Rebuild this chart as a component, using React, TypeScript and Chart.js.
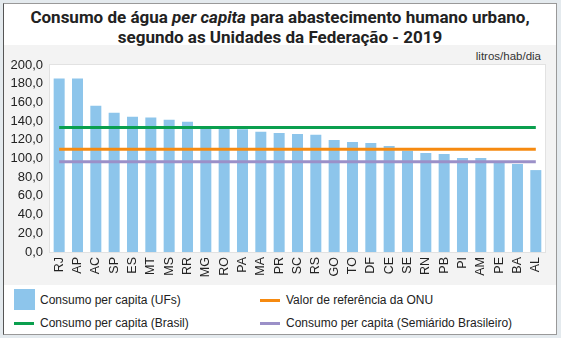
import React, { useEffect, useRef } from "react";
import { Chart, registerables } from "chart.js";

Chart.register(...registerables);

const categories = ["RJ","AP","AC","SP","ES","MT","MS","RR","MG","RO","PA","MA","PR","SC","RS","GO","TO","DF","CE","SE","RN","PB","PI","AM","PE","BA","AL"];
const ufValues = [185.5,185.5,156.5,149.0,144.6,143.9,141.4,139.2,133.3,132.8,131.2,128.5,127.4,126.3,125.3,119.9,117.7,116.7,113.4,108.3,105.9,104.8,100.5,100.5,97.3,94.1,87.6];
const brasilValue = 133.1;
const onuValue = 110.0;
const semiaridoValue = 96.6;
const yTicks = { min: 0, max: 200, step: 20 };

const seriesLabels = {
  ufs: "Consumo per capita (UFs)",
  onu: "Valor de referência da ONU",
  brasil: "Consumo per capita (Brasil)",
  semi: "Consumo per capita (Semiárido Brasileiro)",
};

const COLORS = {
  bar: "#8dc5eb",
  green: "#0a9f4e",
  orange: "#f68a10",
  purple: "#9b90c8",
};

const FONT = "Roboto, 'Liberation Sans', Arial, sans-serif";
const FONT2 = "'Liberation Sans', Arial, sans-serif";

const plotBg = {
  id: "plotBg",
  beforeDraw(chart: any) {
    const { ctx, chartArea: a } = chart;
    ctx.save();
    ctx.fillStyle = "#ffffff";
    ctx.fillRect(a.left, a.top, a.right - a.left, a.bottom - a.top);
    ctx.strokeStyle = "#e2e2e2";
    ctx.lineWidth = 1;
    ctx.strokeRect(a.left - 0.5, a.top - 0.5, a.right - a.left + 1, a.bottom - a.top + 1);
    ctx.restore();
  },
};

function App() {
  const ref = useRef<HTMLCanvasElement | null>(null);
  useEffect(() => {
    if (!ref.current) return;
    const n = categories.length;
    const chart = new Chart(ref.current, {
      type: "bar",
      data: {
        labels: categories,
        datasets: [
          {
            type: "bar",
            label: seriesLabels.ufs,
            data: ufValues,
            backgroundColor: COLORS.bar,
            borderWidth: 0,
            categoryPercentage: 0.6,
            barPercentage: 1,
            order: 2,
          } as any,
          {
            type: "line",
            label: seriesLabels.onu,
            data: new Array(n).fill(onuValue),
            borderColor: COLORS.orange,
            borderWidth: 3,
            pointRadius: 0,
            fill: false,
            order: 1,
          },
          {
            type: "line",
            label: seriesLabels.brasil,
            data: new Array(n).fill(brasilValue),
            borderColor: COLORS.green,
            borderWidth: 3,
            pointRadius: 0,
            fill: false,
            order: 1,
          },
          {
            type: "line",
            label: seriesLabels.semi,
            data: new Array(n).fill(semiaridoValue),
            borderColor: COLORS.purple,
            borderWidth: 3,
            pointRadius: 0,
            fill: false,
            order: 1,
          },
        ],
      },
      options: {
        animation: false,
        responsive: false,
        maintainAspectRatio: false,
        layout: { padding: { left: 0, top: 20, right: 10, bottom: 1 } },
        plugins: {
          legend: { display: false },
          tooltip: { enabled: false },
          title: { display: false },
        },
        scales: {
          x: {
            grid: { display: false, drawTicks: false },
            border: { display: false },
            ticks: {
              autoSkip: false,
              minRotation: 90,
              maxRotation: 90,
              padding: 5,
              color: "#222",
              font: { family: FONT2, size: 12.5 },
            },
            afterFit(scale: any) {
              scale.height = 30;
            },
          },
          y: {
            min: yTicks.min,
            max: yTicks.max,
            grid: { display: false, drawTicks: false },
            border: { display: false },
            ticks: {
              stepSize: yTicks.step,
              padding: 7,
              color: "#222",
              font: { family: FONT2, size: 13 },
              callback: (v: any) => Number(v).toFixed(1).replace(".", ","),
            },
            afterFit(scale: any) {
              scale.width = 46;
            },
          },
        },
      },
      plugins: [plotBg],
    });
    return () => chart.destroy();
  }, []);

  const legendText: React.CSSProperties = {
    position: "absolute",
    fontFamily: FONT2,
    fontSize: 12,
    color: "#222",
    lineHeight: "16px",
    whiteSpace: "nowrap",
  };
  const lineSwatch = (color: string, left: number, top: number) => (
    <div style={{ position: "absolute", left, top, width: 20, height: 3, background: color }} />
  );

  return (
    <div style={{ position: "fixed", left: 0, top: 0, width: 561, height: 338, background: "#e4eaee", overflow: "hidden" }}>
      <div
        style={{
          position: "absolute",
          left: 3,
          top: 3,
          width: 552,
          height: 330,
          background: "#ffffff",
          borderLeft: "1px solid #555",
          borderTop: "1px solid #999",
          borderRight: "1px solid #999",
          borderBottom: "1px solid #999",
        }}
      >
        <div style={{ position: "absolute", left: 0, top: 41, width: 552, height: 240, background: "#f3f3f3" }} />
        <div
          style={{
            position: "absolute",
            left: 0,
            top: 3,
            width: 552,
            textAlign: "center",
            fontFamily: FONT,
            fontWeight: 700,
            fontSize: 17,
            lineHeight: "20px",
            color: "#222",
          }}
        >
          Consumo de água <i>per capita</i> para abastecimento humano urbano,
          <br />
          segundo as Unidades da Federação - 2019
        </div>
        <div
          style={{
            position: "absolute",
            right: 15,
            top: 45,
            fontFamily: FONT2,
            fontSize: 11.5,
            color: "#333",
            lineHeight: "14px",
          }}
        >
          litros/hab/dia
        </div>
        <canvas ref={ref} width={552} height={238} style={{ position: "absolute", left: 0, top: 41, width: 552, height: 238 }} />
        <div style={{ position: "absolute", left: 10, top: 285, width: 21, height: 21, background: COLORS.bar }} />
        <div style={{ ...legendText, left: 36, top: 288 }}>{seriesLabels.ufs}</div>
        {lineSwatch(COLORS.orange, 256, 295)}
        <div style={{ ...legendText, left: 282, top: 288 }}>{seriesLabels.onu}</div>
        {lineSwatch(COLORS.green, 10, 318)}
        <div style={{ ...legendText, left: 36, top: 311 }}>{seriesLabels.brasil}</div>
        {lineSwatch(COLORS.purple, 256, 318)}
        <div style={{ ...legendText, left: 282, top: 311 }}>{seriesLabels.semi}</div>
      </div>
    </div>
  );
}

export default App;
